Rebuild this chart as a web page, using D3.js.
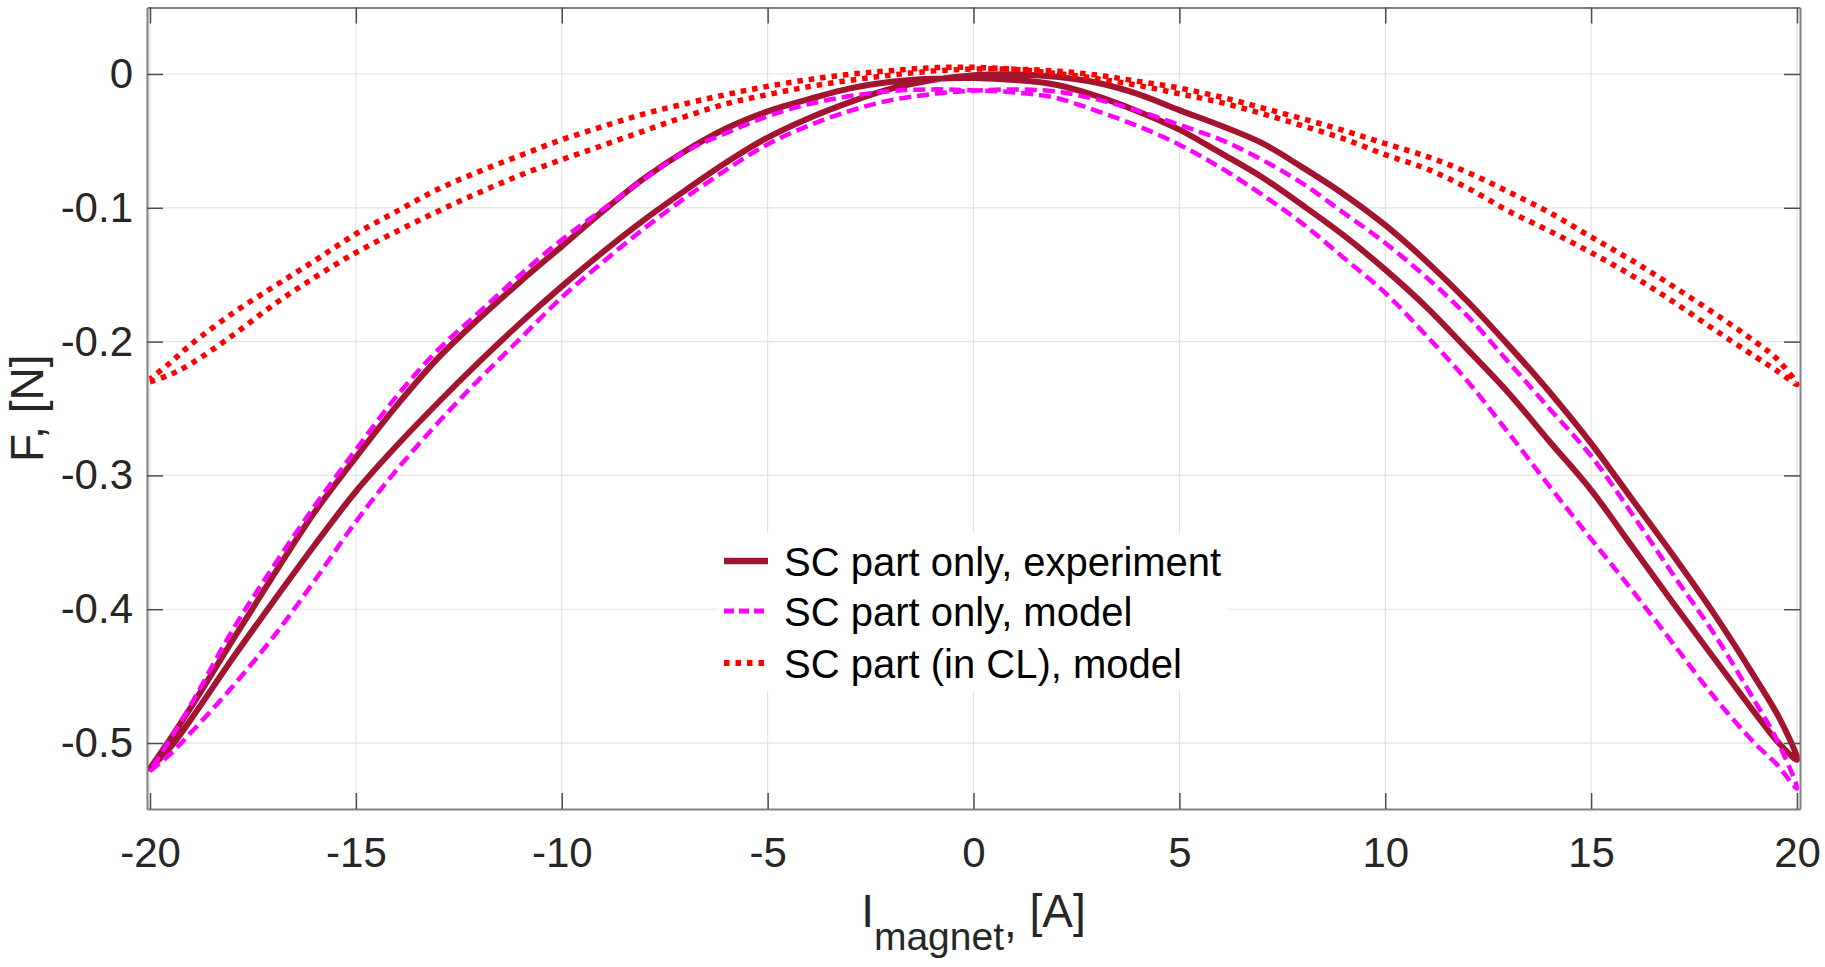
<!DOCTYPE html>
<html><head><meta charset="utf-8">
<script src="https://cdn.jsdelivr.net/npm/d3@7"></script>
<style>
body{margin:0;background:#fff;}
svg{display:block;}
text{font-family:"Liberation Sans",Arial,Helvetica,sans-serif;}
</style>
</head><body>
<svg id="chart" width="1825" height="967"></svg>
<script>
// ---------- data ----------
const xTicks = [-20, -15, -10, -5, 0, 5, 10, 15, 20];
const xTickLabels = ["-20", "-15", "-10", "-5", "0", "5", "10", "15", "20"];
const yTicks = [0, -0.1, -0.2, -0.3, -0.4, -0.5];
const yTickLabels = ["0", "-0.1", "-0.2", "-0.3", "-0.4", "-0.5"];
const seriesNames = ["SC part only, experiment", "SC part only, model", "SC part (in CL), model"];

// experiment: increasing-current branch, then decreasing-current branch  [I, F]
const expUp = [[-20,-0.519],[-19.5,-0.503],[-19,-0.482],[-18,-0.437],[-17,-0.394],[-16,-0.352],[-15,-0.312],[-14,-0.2775],[-13,-0.2455],[-12,-0.215],[-11,-0.186],[-10,-0.1587],[-9,-0.133],[-8,-0.109],[-7,-0.087],[-6,-0.066],[-5,-0.0475],[-4,-0.033],[-3,-0.021],[-2,-0.011],[-1,-0.0045],[0,-0.001],[1,-0.0003],[2,-0.002],[3,-0.0065],[4,-0.015],[5,-0.027],[6,-0.0385],[7,-0.0515],[8,-0.070],[9,-0.090],[10,-0.113],[11,-0.140],[12,-0.170],[13,-0.203],[14,-0.238],[15,-0.276],[16,-0.318],[17,-0.360],[18,-0.404],[19,-0.452],[19.6,-0.483],[20,-0.5125]];
const expDown = [[19.5,-0.498],[19,-0.4784],[18,-0.4372],[17,-0.3957],[16,-0.3533],[15,-0.311],[14,-0.275],[13,-0.2385],[12,-0.206],[11,-0.1742],[10,-0.1462],[9,-0.1208],[8,-0.0983],[7,-0.077],[6,-0.059],[5,-0.0416],[4,-0.028],[3,-0.0165],[2,-0.008],[1,-0.0045],[0,-0.003],[-1,-0.0035],[-2,-0.0058],[-3,-0.0107],[-4,-0.0188],[-5,-0.0279],[-6,-0.0405],[-7,-0.0575],[-8,-0.078],[-9,-0.1025],[-10,-0.1288],[-11,-0.155],[-12,-0.1825],[-13,-0.2122],[-14,-0.2475],[-15,-0.2866],[-16,-0.3274],[-17,-0.3746],[-18,-0.4234],[-19,-0.473],[-19.5,-0.4965],[-20,-0.519]];

// model, SC part only
const modUp = [[-20,-0.521],[-19.5,-0.508],[-19,-0.492],[-18,-0.458],[-17,-0.4205],[-16,-0.3785],[-15,-0.3345],[-14,-0.2955],[-13,-0.2605],[-12,-0.228],[-11,-0.1975],[-10,-0.167],[-9,-0.1405],[-8,-0.1155],[-7,-0.0925],[-6,-0.0715],[-5,-0.0525],[-4,-0.0385],[-3,-0.0275],[-2,-0.0195],[-1,-0.015],[0,-0.0125],[1,-0.0115],[2,-0.013],[3,-0.019],[4,-0.0275],[5,-0.038],[6,-0.049],[7,-0.064],[8,-0.082],[9,-0.104],[10,-0.1263],[11,-0.152],[12,-0.181],[13,-0.2155],[14,-0.2505],[15,-0.2855],[16,-0.329],[17,-0.3745],[18,-0.419],[19,-0.470],[19.5,-0.497],[20,-0.534]];
const modDown = [[19.5,-0.5156],[19,-0.501],[18,-0.466],[17,-0.426],[16,-0.386],[15,-0.3475],[14,-0.3085],[13,-0.2685],[12,-0.2296],[11,-0.1956],[10,-0.1636],[9,-0.1376],[8,-0.112],[7,-0.090],[6,-0.070],[5,-0.0528],[4,-0.039],[3,-0.0277],[2,-0.0178],[1,-0.0138],[0,-0.0122],[-1,-0.0115],[-2,-0.0128],[-3,-0.0165],[-4,-0.0225],[-5,-0.0316],[-6,-0.044],[-7,-0.058],[-8,-0.0785],[-9,-0.1012],[-10,-0.1238],[-11,-0.1498],[-12,-0.1778],[-13,-0.206],[-14,-0.2405],[-15,-0.2808],[-16,-0.3228],[-17,-0.3678],[-18,-0.4158],[-19,-0.471],[-19.5,-0.4965],[-20,-0.521]];

// model, SC part in CL
const clUp = [[-20,-0.230],[-19.5,-0.2245],[-19,-0.2165],[-18,-0.1955],[-17,-0.1725],[-16,-0.152],[-15,-0.1335],[-14,-0.1175],[-13,-0.1025],[-12,-0.0885],[-11,-0.0755],[-10,-0.064],[-9,-0.0533],[-8,-0.0425],[-7,-0.0318],[-6,-0.0222],[-5,-0.0154],[-4,-0.0095],[-3,-0.0047],[-2,-0.0008],[-1,0.0022],[0,0.0037],[1,0.0036],[2,0.0022],[3,-0.0008],[4,-0.0055],[5,-0.0105],[6,-0.0172],[7,-0.0252],[8,-0.0335],[9,-0.0423],[10,-0.052],[11,-0.0615],[12,-0.0735],[13,-0.0882],[14,-0.1037],[15,-0.1218],[16,-0.1395],[17,-0.1588],[18,-0.179],[19,-0.2005],[19.5,-0.2125],[20,-0.232]];
const clDown = [[19.5,-0.2215],[19,-0.2115],[18,-0.1912],[17,-0.1703],[16,-0.1508],[15,-0.1335],[14,-0.1175],[13,-0.1025],[12,-0.0852],[11,-0.0708],[10,-0.0603],[9,-0.0485],[8,-0.0388],[7,-0.0295],[6,-0.0212],[5,-0.0148],[4,-0.0085],[3,-0.0035],[2,0.0005],[1,0.0035],[0,0.0050],[-1,0.0047],[-2,0.0025],[-3,-0.0002],[-4,-0.0042],[-5,-0.0092],[-6,-0.0153],[-7,-0.0222],[-8,-0.0298],[-9,-0.0392],[-10,-0.0491],[-11,-0.0608],[-12,-0.0728],[-13,-0.086],[-14,-0.1025],[-15,-0.1195],[-16,-0.1395],[-17,-0.159],[-18,-0.179],[-19,-0.202],[-19.5,-0.2155],[-20,-0.228]];

// ---------- drawing ----------
const svg = d3.select("#chart");
const L = 147, R = 1800, T = 7.5, B = 809;
const x = d3.scaleLinear().domain([-20.073, 20.073]).range([L, R]);
const y = d3.scaleLinear().domain([-0.5493, 0.0497]).range([B, T]);

svg.append("rect").attr("width", 1825).attr("height", 967).attr("fill", "#fff");

// grid
const grid = svg.append("g");
grid.selectAll("line.gx").data(xTicks).join("line")
  .attr("x1", d => x(d)).attr("x2", d => x(d)).attr("y1", T).attr("y2", B)
  .attr("stroke", "#e3e3e3").attr("stroke-width", 1.2);
grid.selectAll("line.gy").data(yTicks).join("line")
  .attr("y1", d => y(d)).attr("y2", d => y(d)).attr("x1", L).attr("x2", R)
  .attr("stroke", "#e3e3e3").attr("stroke-width", 1.2);

// clip
svg.append("defs").append("clipPath").attr("id", "clip")
  .append("rect").attr("x", L).attr("y", T).attr("width", R - L).attr("height", B - T);

const line = d3.line().x(d => x(d[0])).y(d => y(d[1])).curve(d3.curveCatmullRom.alpha(0.5));
const plot = svg.append("g").attr("clip-path", "url(#clip)");

const series = [
  {data: expUp.concat(expDown), color: "#A2142F", width: 6, dash: null, legDash: null},
  {data: modUp.concat(modDown), color: "#FF00FF", width: 4.5, dash: "12,6", legDash: "10,5"},
  {data: clUp.concat(clDown), color: "#FF0000", width: 5.5, dash: "5.5,6", legDash: "5.5,6"}
];
series.forEach(s => {
  plot.append("path").datum(s.data).attr("d", line)
    .attr("fill", "none").attr("stroke", s.color).attr("stroke-width", s.width)
    .attr("stroke-linejoin", "round").attr("stroke-linecap", s.dash ? "butt" : "round")
    .attr("stroke-dasharray", s.dash);
});

// axes
const tickCol = "#4d4d4d", domCol = "#808080", lblCol = "#262626";
function styleAxis(g, showLabels) {
  g.select(".domain").attr("stroke", domCol).attr("stroke-width", 2).attr("fill", "none");
  g.selectAll(".tick line").attr("stroke", tickCol).attr("stroke-width", 1.5);
  g.selectAll(".tick text").attr("fill", lblCol).attr("font-size", 42)
    .attr("font-family", "'Liberation Sans', Arial, sans-serif");
  if (!showLabels) g.selectAll(".tick text").remove();
}
svg.append("g").attr("transform", `translate(0,${B})`)
  .call(d3.axisBottom(x).tickValues(xTicks).tickFormat((d, i) => xTickLabels[i])
    .tickSizeInner(-16).tickSizeOuter(0).tickPadding(28))
  .call(g => styleAxis(g, true));
svg.append("g").attr("transform", `translate(0,${T})`)
  .call(d3.axisTop(x).tickValues(xTicks).tickSizeInner(-16).tickSizeOuter(0))
  .call(g => styleAxis(g, false));
svg.append("g").attr("transform", `translate(${L},0)`)
  .call(d3.axisLeft(y).tickValues(yTicks).tickFormat((d, i) => yTickLabels[i])
    .tickSizeInner(-16).tickSizeOuter(0).tickPadding(14))
  .call(g => styleAxis(g, true));
svg.append("g").attr("transform", `translate(${R},0)`)
  .call(d3.axisRight(y).tickValues(yTicks).tickSizeInner(-16).tickSizeOuter(0))
  .call(g => styleAxis(g, false));

// axis labels
const xl = svg.append("text").attr("x", (L + R) / 2).attr("y", 927)
  .attr("text-anchor", "middle").attr("font-size", 46).attr("fill", lblCol);
xl.append("tspan").text("I");
xl.append("tspan").attr("font-size", 39).attr("dy", 23).text("magnet");
xl.append("tspan").attr("dy", -13).text(",");
xl.append("tspan").attr("dy", -10).text(" [A]");

svg.append("text").attr("transform", `translate(43,${(T + B) / 2}) rotate(-90)`)
  .attr("text-anchor", "middle").attr("font-size", 46).attr("fill", lblCol)
  .text("F, [N]");

// legend
const lg = svg.append("g");
lg.append("rect").attr("x", 718).attr("y", 533).attr("width", 510).attr("height", 158).attr("fill", "#fff");
const rowY = [561, 611, 663];
series.forEach((s, i) => {
  lg.append("line").attr("x1", 724).attr("x2", 768).attr("y1", rowY[i]).attr("y2", rowY[i])
    .attr("stroke", s.color).attr("stroke-width", s.width + 0.5).attr("stroke-dasharray", s.legDash);
  lg.append("text").attr("x", 784).attr("y", rowY[i] + 15).attr("font-size", 40).attr("fill", "#000")
    .text(seriesNames[i]);
});
</script>
</body></html>
